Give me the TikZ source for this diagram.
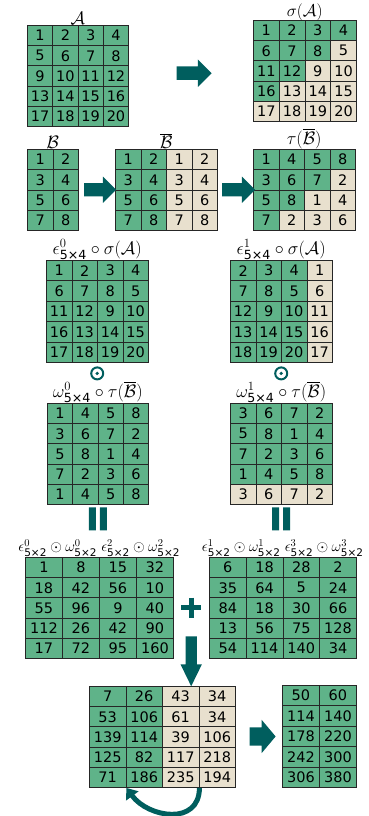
\RequirePackage{fix-cm}
\documentclass[tikz,border=0pt]{standalone}
\usepackage{fontspec}
\setmainfont{DejaVu Sans}
\usepackage{amsmath,amssymb}
\usetikzlibrary{positioning,calc,shapes.arrows,arrows.meta}

\definecolor{cG}{RGB}{95,179,137}
\definecolor{cB}{RGB}{232,224,206}
\definecolor{darkteal}{RGB}{0,94,94}

\tikzset{
  cellbox/.style={draw=black!85, line width=0.9pt, inner sep=0pt, anchor=north west,
    font=\fontsize{14.5}{14.5}\selectfont},
  mtitle/.style={inner sep=0pt, font=\fontsize{18}{20}\selectfont},
  stitle/.style={inner sep=0pt, font=\fontsize{15}{17}\selectfont},
  bigarrow/.style={single arrow, fill=darkteal, single arrow head indent=0pt},
  odotsym/.style={circle, draw=darkteal, line width=2pt, minimum size=12pt, inner sep=0pt},
  opline/.style={draw=darkteal, line width=5pt},
}

% name, left, top, cell width, cell height, cols, rows, {{green cells,values...},...}
\newcommand\valgrid[8]{%
  \foreach \row [count=\r from 0] in {#8} {
    \foreach \v [count=\k from -1] in \row {
      \ifnum\k<0 \xdef\ng{\v}\else
        \ifnum\k<\ng \def\cl{cG}\else\def\cl{cB}\fi
        \node[cellbox, fill=\cl, minimum width=#4pt, minimum height=#5pt]
          (#1-\r-\k) at ({#2+\k*#4},{#3+\r*#5}) {\v};
      \fi
    }
  }
  \node[inner sep=0pt, anchor=north west, minimum width={#6*#4pt}, minimum height={#7*#5pt}]
    (#1) at (#2,#3) {};
}

\begin{document}
\begin{tikzpicture}[x=1pt,y=-1pt]
\useasboundingbox (0,0) rectangle (368,816);

\valgrid{A}{27}{25}{25.3}{20.2}{4}{5}{{4,1,2,3,4},{4,5,6,7,8},{4,9,10,11,12},{4,13,14,15,16},{4,17,18,19,20}}
\valgrid{sA}{253}{20}{25.75}{20.2}{4}{5}{{4,1,2,3,4},{3,6,7,8,5},{2,11,12,9,10},{1,16,13,14,15},{0,17,18,19,20}}
\valgrid{B}{27}{149}{25.5}{20.25}{2}{4}{{2,1,2},{2,3,4},{2,5,6},{2,7,8}}
\valgrid{Bb}{115}{149}{25.5}{20.25}{4}{4}{{2,1,2,1,2},{2,3,4,3,4},{2,5,6,5,6},{2,7,8,7,8}}
\valgrid{tB}{253}{149}{25.5}{20.25}{4}{4}{{4,1,4,5,8},{3,3,6,7,2},{2,5,8,1,4},{1,7,2,3,6}}
\valgrid{e0}{46}{260}{25.5}{20.4}{4}{5}{{4,1,2,3,4},{4,6,7,8,5},{4,11,12,9,10},{4,16,13,14,15},{4,17,18,19,20}}
\valgrid{e1}{230}{260}{25.5}{20.4}{4}{5}{{3,2,3,4,1},{3,7,8,5,6},{3,12,9,10,11},{3,13,14,15,16},{3,18,19,20,17}}
\valgrid{w0}{47}{403}{25.3}{20.2}{4}{5}{{4,1,4,5,8},{4,3,6,7,2},{4,5,8,1,4},{4,7,2,3,6},{4,1,4,5,8}}
\valgrid{w1}{230}{403}{25.5}{20.2}{4}{5}{{4,3,6,7,2},{4,5,8,1,4},{4,7,2,3,6},{4,1,4,5,8},{0,3,6,7,2}}
\valgrid{s0}{25}{557}{37}{20.2}{4}{5}{{4,1,8,15,32},{4,18,42,56,10},{4,55,96,9,40},{4,112,26,42,90},{4,17,72,95,160}}
\valgrid{s1}{209}{557}{36.75}{20.2}{4}{5}{{4,6,18,28,2},{4,35,64,5,24},{4,84,18,30,66},{4,13,56,75,128},{4,54,114,140,34}}
\valgrid{T}{89}{686}{36.5}{20.2}{4}{5}{{2,7,26,43,34},{2,53,106,61,34},{2,139,114,39,106},{2,125,82,117,218},{2,71,186,235,194}}
\valgrid{R}{282}{685}{37}{20.4}{2}{5}{{2,50,60},{2,114,140},{2,178,220},{2,242,300},{2,306,380}}

\node[mtitle, above=0pt of A] (tA) {$\mathcal{A}$};
\node[mtitle, font=\fontsize{17}{18}\selectfont, above=-1pt of sA] (tsA) {$\sigma(\mathcal{A})$};
\node[mtitle, above=0pt of B] (tB0) {$\mathcal{B}$};
\node[mtitle, above=0pt of Bb] (tBb) {$\overline{\mathcal{B}}$};
\node[mtitle, above=0pt of tB] (ttB) {$\tau(\overline{\mathcal{B}})$};
\node[mtitle, above=0pt of e0] (te0) {$\epsilon^{0}_{\text{5×4}}\circ\sigma(\mathcal{A})$};
\node[mtitle, above=0pt of e1] (te1) {$\epsilon^{1}_{\text{5×4}}\circ\sigma(\mathcal{A})$};
\node[mtitle, above=0pt of w0] (tw0) {$\omega^{0}_{\text{5×4}}\circ\tau(\overline{\mathcal{B}})$};
\node[mtitle, above=0pt of w1] (tw1) {$\omega^{1}_{\text{5×4}}\circ\tau(\overline{\mathcal{B}})$};
\node[stitle, above=0pt of s0] (ts0) {$\epsilon^{0}_{\text{5×2}}\odot\omega^{0}_{\text{5×2}}\;\epsilon^{2}_{\text{5×2}}\odot\omega^{2}_{\text{5×2}}$};
\node[stitle, above=0pt of s1] (ts1) {$\epsilon^{1}_{\text{5×2}}\odot\omega^{1}_{\text{5×2}}\;\epsilon^{3}_{\text{5×2}}\odot\omega^{3}_{\text{5×2}}$};

\node[bigarrow, inner sep=6.5pt, minimum height=35pt, single arrow head extend=7pt]
  (a1) at ($(A.east)!0.5!(sA.west)$) {};
\node[bigarrow, inner sep=6.5pt, minimum height=32pt, single arrow head extend=6.5pt]
  (a2) at ($(B.east)!0.5!(Bb.west)$) {};
\node[bigarrow, inner sep=6.5pt, minimum height=33pt, single arrow head extend=6.5pt]
  (a3) at ($(Bb.east)!0.5!(tB.west)$) {};
\node[bigarrow, inner sep=9pt, minimum height=24pt, single arrow head extend=7.5pt, single arrow tip angle=100]
  (a4) at ($(T.east)!0.5!(R.west)$) {};
\node[bigarrow, inner sep=5.5pt, shape border rotate=270, minimum height=50pt, single arrow head extend=5pt, single arrow tip angle=52]
  (a5) at ($(s0.south east)!0.5!(s1.south west)+(0,-3)$) {};

\node[odotsym, below=4pt of e0] (dot0) {};
\node[odotsym, below=4pt of e1] (dot1) {};
\fill[darkteal] (dot0) circle (1.8pt) (dot1) circle (1.8pt);

\foreach \m in {w0,w1} {
  \coordinate (eq\m) at ($(\m.south)+(0,3)$);
  \fill[darkteal] ($(eq\m)+(-9,0)$) rectangle ++(7,23) ($(eq\m)+(2,0)$) rectangle ++(7,23);
}

\path (s0.east) -- (s1.west) coordinate[midway] (plus);
\draw[opline] (plus) ++(-10,0) -- ++(20,0) (plus) ++(0,-10) -- ++(0,20);

\draw[darkteal, line width=5pt, -{Triangle[length=10pt,width=15pt]}]
  (T-4-2.south east) .. controls +(0,38) and +(22,30) .. (T-4-0.south east);
\end{tikzpicture}
\end{document}
